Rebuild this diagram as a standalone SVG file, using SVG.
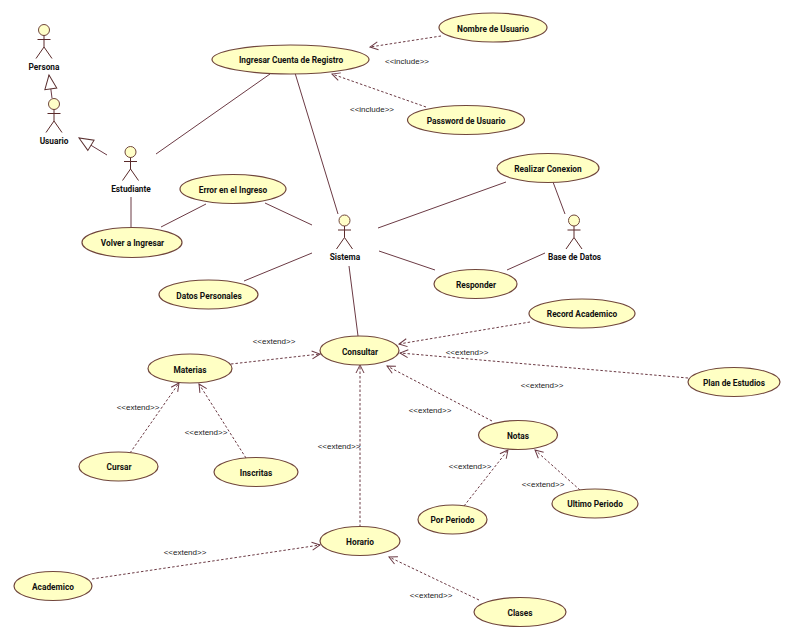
<svg xmlns="http://www.w3.org/2000/svg" width="794" height="640" viewBox="0 0 794 640">
<defs>
<marker id="open" markerUnits="userSpaceOnUse" markerWidth="12" markerHeight="12" refX="9" refY="5" orient="auto"><path d="M1 1L9 5L1 9" fill="none" stroke="#6b3a44" stroke-width="1"/></marker>
<marker id="tri" markerUnits="userSpaceOnUse" markerWidth="17" markerHeight="16" refX="15" refY="8" orient="auto"><path d="M1 2L15 8L1 14Z" fill="#fff" stroke="#5a3030" stroke-width="1"/></marker>
<g id="actor-shape"><circle cx="0" cy="0" r="5.500" class="f"/><path d="M0 5.500V17M-6.500 9.500H6.500M-8 28.500L0 17L8 28.500" fill="none" stroke="#5a2a2a" stroke-width="1"/></g>
</defs>
<style>
.f{fill:#ffffc8;stroke:#70463c;stroke-width:1}
.e{fill:#ffffc4;stroke:#70463c;stroke-width:1.2}
.t{font-family:"Roboto","Liberation Sans",sans-serif;font-size:8.3px;font-weight:bold;fill:#101010;text-anchor:middle}
.s{font-family:"Liberation Sans",sans-serif;font-size:8px;fill:#222;text-anchor:middle}
.l{fill:none;stroke:#6b3a44;stroke-width:1}
.d{fill:none;stroke:#6b3a44;stroke-width:1;stroke-dasharray:2.500 2;marker-end:url(#open)}
</style>
<rect width="794" height="640" fill="#fff"/>
<g id="connectors">
<path class="l" d="M156 154L270 74M295 73L338 214M131 197V227M161 227L206 204M265 203L312 225M378 228L506 182M553 182L565 214M379 251L435 270M507 270L545 253M244 281L312 253M349 266L358 336"/>
<path class="l" marker-end="url(#tri)" d="M52 98L49 75"/>
<path class="l" marker-end="url(#tri)" d="M107 155L79 138"/>
<path class="d" d="M441 36L370 47"/>
<path class="d" d="M426 107L332 74"/>
<path class="d" d="M231 364L320 354"/>
<path class="d" d="M130 453L179 383"/>
<path class="d" d="M246 458L199 384"/>
<path class="d" d="M360 527V365"/>
<path class="d" d="M530 322L399 344"/>
<path class="d" d="M688 378L400 353"/>
<path class="d" d="M492 421L387 366"/>
<path class="d" d="M464 506L508 450"/>
<path class="d" d="M580 490L535 450"/>
<path class="d" d="M92 579L320 545"/>
<path class="d" d="M479 600L389 557"/>
</g>
<g id="persona"><use href="#actor-shape" x="44" y="30"/><text class="t" x="44" y="70">Persona</text></g>
<g id="usuario"><use href="#actor-shape" x="54" y="104"/><text class="t" x="54" y="144">Usuario</text></g>
<g id="estudiante"><use href="#actor-shape" x="130.500" y="152"/><text class="t" x="131" y="192">Estudiante</text></g>
<g id="sistema"><use href="#actor-shape" x="344.500" y="220.500"/><text class="t" x="345" y="260">Sistema</text></g>
<g id="base-datos"><use href="#actor-shape" x="574" y="220.500"/><text class="t" x="574.500" y="260">Base de Datos</text></g>
<g id="ingresar"><ellipse class="e" cx="290.500" cy="59.500" rx="78.500" ry="14.500"/><text class="t" x="291" y="63">Ingresar Cuenta de Registro</text></g>
<g id="nombre"><ellipse class="e" cx="493" cy="27.500" rx="54" ry="14.500"/><text class="t" x="493" y="32">Nombre de Usuario</text></g>
<g id="password"><ellipse class="e" cx="466" cy="120" rx="58.500" ry="14.500"/><text class="t" x="466" y="124">Password de Usuario</text></g>
<g id="conexion"><ellipse class="e" cx="548" cy="168" rx="51" ry="14.500"/><text class="t" x="548" y="172">Realizar Conexion</text></g>
<g id="error"><ellipse class="e" cx="233" cy="189" rx="53" ry="14.500"/><text class="t" x="233" y="193">Error en el Ingreso</text></g>
<g id="volver"><ellipse class="e" cx="132" cy="242.500" rx="50" ry="15"/><text class="t" x="132.500" y="246">Volver a Ingresar</text></g>
<g id="datos"><ellipse class="e" cx="208.500" cy="294.500" rx="49.500" ry="14.500"/><text class="t" x="209" y="299">Datos Personales</text></g>
<g id="responder"><ellipse class="e" cx="475.500" cy="284" rx="41.500" ry="14.500"/><text class="t" x="476" y="288">Responder</text></g>
<g id="record"><ellipse class="e" cx="582" cy="313.500" rx="53" ry="14.500"/><text class="t" x="582" y="317">Record Academico</text></g>
<g id="consultar"><ellipse class="e" cx="359.500" cy="350.500" rx="39.500" ry="14.500"/><text class="t" x="360" y="355">Consultar</text></g>
<g id="materias"><ellipse class="e" cx="190" cy="368.500" rx="42" ry="14.500"/><text class="t" x="190" y="373">Materias</text></g>
<g id="plan"><ellipse class="e" cx="734" cy="382" rx="46" ry="14.500"/><text class="t" x="734" y="386">Plan de Estudios</text></g>
<g id="notas"><ellipse class="e" cx="518" cy="435" rx="39.500" ry="14.500"/><text class="t" x="518" y="439">Notas</text></g>
<g id="cursar"><ellipse class="e" cx="118.500" cy="466.500" rx="39.500" ry="14.500"/><text class="t" x="119" y="470">Cursar</text></g>
<g id="inscritas"><ellipse class="e" cx="256" cy="472" rx="42" ry="14.500"/><text class="t" x="256" y="476">Inscritas</text></g>
<g id="ultimo"><ellipse class="e" cx="595" cy="503.500" rx="43" ry="14.500"/><text class="t" x="595" y="507">Ultimo Periodo</text></g>
<g id="por-periodo"><ellipse class="e" cx="452.500" cy="519.500" rx="34.500" ry="14.500"/><text class="t" x="452.500" y="523">Por Periodo</text></g>
<g id="horario"><ellipse class="e" cx="360" cy="541" rx="40" ry="14.500"/><text class="t" x="360" y="545">Horario</text></g>
<g id="academico"><ellipse class="e" cx="53" cy="586" rx="39" ry="14.500"/><text class="t" x="53" y="590">Academico</text></g>
<g id="clases"><ellipse class="e" cx="520" cy="612" rx="46" ry="14.500"/><text class="t" x="520" y="616">Clases</text></g>
<g id="labels">
<text class="s" x="407" y="64">&lt;&lt;include&gt;&gt;</text>
<text class="s" x="372" y="112">&lt;&lt;include&gt;&gt;</text>
<text class="s" x="274" y="344">&lt;&lt;extend&gt;&gt;</text>
<text class="s" x="138" y="410">&lt;&lt;extend&gt;&gt;</text>
<text class="s" x="206" y="435">&lt;&lt;extend&gt;&gt;</text>
<text class="s" x="339" y="449">&lt;&lt;extend&gt;&gt;</text>
<text class="s" x="467" y="355">&lt;&lt;extend&gt;&gt;</text>
<text class="s" x="542" y="388">&lt;&lt;extend&gt;&gt;</text>
<text class="s" x="430" y="413">&lt;&lt;extend&gt;&gt;</text>
<text class="s" x="470" y="469">&lt;&lt;extend&gt;&gt;</text>
<text class="s" x="543" y="487">&lt;&lt;extend&gt;&gt;</text>
<text class="s" x="185" y="555">&lt;&lt;extend&gt;&gt;</text>
<text class="s" x="431" y="598">&lt;&lt;extend&gt;&gt;</text>
</g>
</svg>
